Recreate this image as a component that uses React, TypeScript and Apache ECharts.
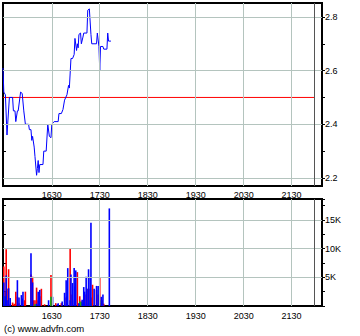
import React, { useEffect, useRef } from "react";
import * as echarts from "echarts";

// ---- data ----
const timeTickLabels = ["1630", "1730", "1830", "1930", "2030", "2130"];
const priceTickLabels = [2.2, 2.4, 2.6, 2.8];
const priceMinorTicks = [2.2, 2.3, 2.4, 2.5, 2.6, 2.7, 2.8];
const volumeTickLabels = [5000, 10000, 15000];
const previousClose = 2.5;
const sessionStart = "15:29";
const sessionEnd = "21:58";

const priceTimes = [
  "15:29", "15:30", "15:32", "15:34", "15:37", "15:41", "15:42", "15:44", "15:45", "15:47",
  "15:48", "15:51", "15:53", "15:55", "15:57", "16:01", "16:02", "16:04", "16:05", "16:06",
  "16:08", "16:09", "16:11", "16:12", "16:13", "16:14", "16:15", "16:19", "16:20", "16:23",
  "16:25", "16:27", "16:29", "16:30", "16:33", "16:38", "16:39", "16:42", "16:44", "16:46",
  "16:49", "16:51", "16:52", "16:54", "16:56", "16:58", "16:59", "17:01", "17:02", "17:03",
  "17:04", "17:06", "17:07", "17:09", "17:10", "17:14", "17:15", "17:17", "17:19", "17:20",
  "17:26", "17:27", "17:29", "17:30", "17:31", "17:34", "17:35", "17:39", "17:40", "17:41",
  "17:44",
];
const priceValues = [
  2.61, 2.52, 2.51, 2.36, 2.5, 2.5, 2.45, 2.45, 2.41, 2.45,
  2.45, 2.52, 2.515, 2.45, 2.4, 2.4, 2.38, 2.38, 2.34, 2.355,
  2.315, 2.28, 2.21, 2.235, 2.265, 2.22, 2.25, 2.25, 2.3, 2.3,
  2.4, 2.355, 2.35, 2.4, 2.41, 2.41, 2.44, 2.44, 2.455, 2.49,
  2.51, 2.545, 2.535, 2.645, 2.645, 2.66, 2.72, 2.675, 2.7, 2.685,
  2.735, 2.74, 2.7, 2.725, 2.74, 2.74, 2.825, 2.83, 2.735, 2.7,
  2.7, 2.74, 2.69, 2.6, 2.69, 2.69, 2.68, 2.68, 2.74, 2.71,
  2.71,
];

const volumeTimes = [
  "15:30", "15:32", "15:33", "15:34", "15:36", "15:38", "15:41", "15:43", "15:45", "15:47",
  "15:49", "15:52", "15:53", "15:54", "15:56", "15:57", "16:04", "16:06", "16:07", "16:09",
  "16:11", "16:13", "16:15", "16:17", "16:21", "16:26", "16:29", "16:31", "16:35", "16:37",
  "16:38", "16:42", "16:43", "16:46", "16:48", "16:49", "16:50", "16:53", "16:54", "16:56",
  "16:58", "16:59", "17:00", "17:02", "17:04", "17:05", "17:07", "17:08", "17:10", "17:11",
  "17:13", "17:14", "17:16", "17:18", "17:19", "17:21", "17:23", "17:26", "17:28", "17:30",
  "17:32", "17:33", "17:34", "17:35", "17:42",
];
const volumeDown = [
  6900, 2500, 9900, 3000, 6400, 300, 600, 400, 2500, 1600,
  500, 0, 0, 0, 1000, 2500, 5500, 5100, 1000, 1000,
  3200, 1000, 1700, 3000, 300, 0, 5400, 0, 500, 0,
  0, 500, 0, 0, 1500, 0, 0, 10000, 2000, 1000,
  0, 0, 0, 5900, 500, 1700, 800, 500, 0, 1000,
  2000, 3000, 1000, 3000, 1500, 3700, 0, 2800, 2000, 5000,
  500, 1000, 0, 400, 0,
];
const volumeFlat = [
  1700, 0, 0, 0, 0, 0, 0, 0, 0, 0,
  0, 0, 0, 0, 0, 0, 300, 0, 0, 300,
  0, 0, 0, 0, 0, 0, 1600, 0, 0, 0,
  0, 0, 0, 0, 0, 0, 0, 0, 0, 0,
  0, 0, 0, 0, 0, 800, 700, 300, 0, 0,
  0, 0, 0, 1000, 500, 0, 0, 0, 0, 0,
  1000, 0, 0, 0, 0,
];
const volumeUp = [
  4100, 1700, 5300, 1000, 3100, 1400, 0, 0, 0, 4500,
  1500, 1900, 1300, 2500, 0, 0, 9200, 4100, 0, 0,
  400, 2500, 2800, 0, 0, 1000, 0, 1600, 0, 300,
  500, 0, 800, 2300, 4500, 1700, 6600, 1000, 5500, 4000,
  6600, 3400, 6200, 0, 500, 0, 0, 1100, 3300, 2500,
  5100, 3000, 6400, 4900, 14500, 0, 3000, 3500, 3500, 0,
  1600, 0, 2000, 0, 17000,
];

// ---- helpers ----
const toMin = (t: string) => {
  const [h, m] = t.split(":").map(Number);
  return h * 60 + m;
};
const labelToMin = (l: string) => Number(l.slice(0, 2)) * 60 + Number(l.slice(2));
const minToLabel = (v: number) => {
  const h = Math.floor(v / 60);
  const m = Math.round(v - h * 60);
  return `${h}${m < 10 ? "0" : ""}${m}`;
};

const X_MIN = 929;
const X_MAX = 1328;
const FONT = "Liberation Sans, Arial, sans-serif";

export default function App() {
  const ref = useRef<HTMLDivElement>(null);

  useEffect(() => {
    document.body.style.margin = "0";
    if (!ref.current) return;
    const chart = echarts.init(ref.current, undefined, { renderer: "svg" });

    const timeTicks = timeTickLabels.map(labelToMin);
    const endMin = toMin(sessionEnd);
    const gridStyle = { color: "#b4c4be", type: "solid", width: 1 };
    const endStyle = { color: "#555555", type: "solid", width: 1 };

    const priceData = priceTimes.map((t, i) => [toMin(t), priceValues[i]]);
    const closeData = [
      [toMin(sessionStart), previousClose],
      [endMin, previousClose],
    ];
    const mkVol = (arr: number[]) => volumeTimes.map((t, i) => [toMin(t), arr[i]]);

    const xCommon = (gridIndex: number, margin: number) => ({
      type: "value" as const,
      gridIndex,
      min: X_MIN,
      max: X_MAX,
      axisLine: { show: false },
      axisTick: { show: false },
      splitLine: { show: false },
      axisLabel: {
        customValues: timeTicks,
        formatter: (v: number) => minToLabel(v),
        fontSize: 9,
        fontFamily: FONT,
        color: "#000",
        margin,
      },
    });

    const option: any = {
      animation: false,
      backgroundColor: "#fff",
      grid: [
        { left: 3, top: 3, width: 319, height: 183, show: true, borderColor: "#000", borderWidth: 2, backgroundColor: "transparent" },
        { left: 3, top: 199, width: 319, height: 107, show: true, borderColor: "#000", borderWidth: 2, backgroundColor: "transparent" },
      ],
      xAxis: [xCommon(0, 4), xCommon(1, 5)],
      yAxis: [
        {
          type: "value",
          gridIndex: 0,
          position: "right",
          min: 2.17,
          max: 2.852,
          axisLine: { show: false },
          splitLine: { show: false },
          axisTick: { show: true, customValues: priceMinorTicks, length: 3, lineStyle: { color: "#000" } },
          axisLabel: {
            customValues: priceTickLabels,
            formatter: (v: number) => v.toFixed(1),
            fontSize: 9,
            fontFamily: FONT,
            color: "#000",
            margin: 3,
          },
        },
        {
          type: "value",
          gridIndex: 0,
          position: "left",
          min: 2.17,
          max: 2.852,
          axisLine: { show: false },
          splitLine: { show: false },
          axisTick: { show: true, inside: true, customValues: priceMinorTicks, length: 3, lineStyle: { color: "#000" } },
          axisLabel: { show: false },
        },
        {
          type: "value",
          gridIndex: 1,
          position: "right",
          min: 0,
          max: 18640,
          interval: 2500,
          axisLine: { show: false },
          splitLine: { show: false },
          axisTick: { show: true, length: 3, lineStyle: { color: "#000" } },
          axisLabel: {
            formatter: (v: number) => (volumeTickLabels.indexOf(v) >= 0 ? `${v / 1000}K` : ""),
            fontSize: 9,
            fontFamily: FONT,
            color: "#000",
            margin: 3,
          },
        },
        {
          type: "value",
          gridIndex: 1,
          position: "left",
          min: 0,
          max: 18640,
          interval: 2500,
          axisLine: { show: false },
          splitLine: { show: false },
          axisTick: { show: true, inside: true, length: 3, lineStyle: { color: "#000" } },
          axisLabel: { show: false },
        },
      ],
      graphic: [
        {
          type: "text",
          left: 4,
          top: 323,
          style: { text: "(c) www.advfn.com", fontSize: 9.5, fontFamily: FONT, fill: "#000" },
        },
      ],
      series: [
        {
          type: "line",
          xAxisIndex: 0,
          yAxisIndex: 0,
          data: [],
          z: 1,
          markLine: {
            silent: true,
            symbol: ["none", "none"],
            label: { show: false },
            lineStyle: gridStyle,
            data: [
              ...timeTicks.map((v) => ({ xAxis: v })),
              ...priceTickLabels.map((v) => ({ yAxis: v })),
              { xAxis: endMin, lineStyle: endStyle },
            ],
          },
        },
        {
          type: "line",
          xAxisIndex: 0,
          yAxisIndex: 0,
          data: closeData,
          showSymbol: false,
          silent: true,
          z: 2,
          color: "#ff0000",
          lineStyle: { color: "#ff0000", width: 1 },
        },
        {
          type: "line",
          xAxisIndex: 0,
          yAxisIndex: 0,
          data: priceData,
          showSymbol: false,
          z: 3,
          color: "#0000ff",
          lineStyle: { color: "#0000ff", width: 1 },
        },
        {
          type: "line",
          xAxisIndex: 1,
          yAxisIndex: 2,
          data: [],
          z: 1,
          markLine: {
            silent: true,
            symbol: ["none", "none"],
            label: { show: false },
            lineStyle: gridStyle,
            data: [
              ...timeTicks.map((v) => ({ xAxis: v })),
              ...volumeTickLabels.map((v) => ({ yAxis: v })),
              { xAxis: endMin, lineStyle: endStyle },
            ],
          },
        },
        {
          type: "bar",
          xAxisIndex: 1,
          yAxisIndex: 2,
          stack: "vol",
          barWidth: 1.6,
          z: 3,
          data: mkVol(volumeDown),
          itemStyle: { color: "#ff0000" },
        },
        {
          type: "bar",
          xAxisIndex: 1,
          yAxisIndex: 2,
          stack: "vol",
          barWidth: 1.6,
          z: 3,
          data: mkVol(volumeFlat),
          itemStyle: { color: "#00c000" },
        },
        {
          type: "bar",
          xAxisIndex: 1,
          yAxisIndex: 2,
          stack: "vol",
          barWidth: 1.6,
          z: 3,
          data: mkVol(volumeUp),
          itemStyle: { color: "#0000ff" },
        },
      ],
    };

    chart.setOption(option);
    return () => chart.dispose();
  }, []);

  return <div ref={ref} style={{ width: 360, height: 336 }} />;
}
